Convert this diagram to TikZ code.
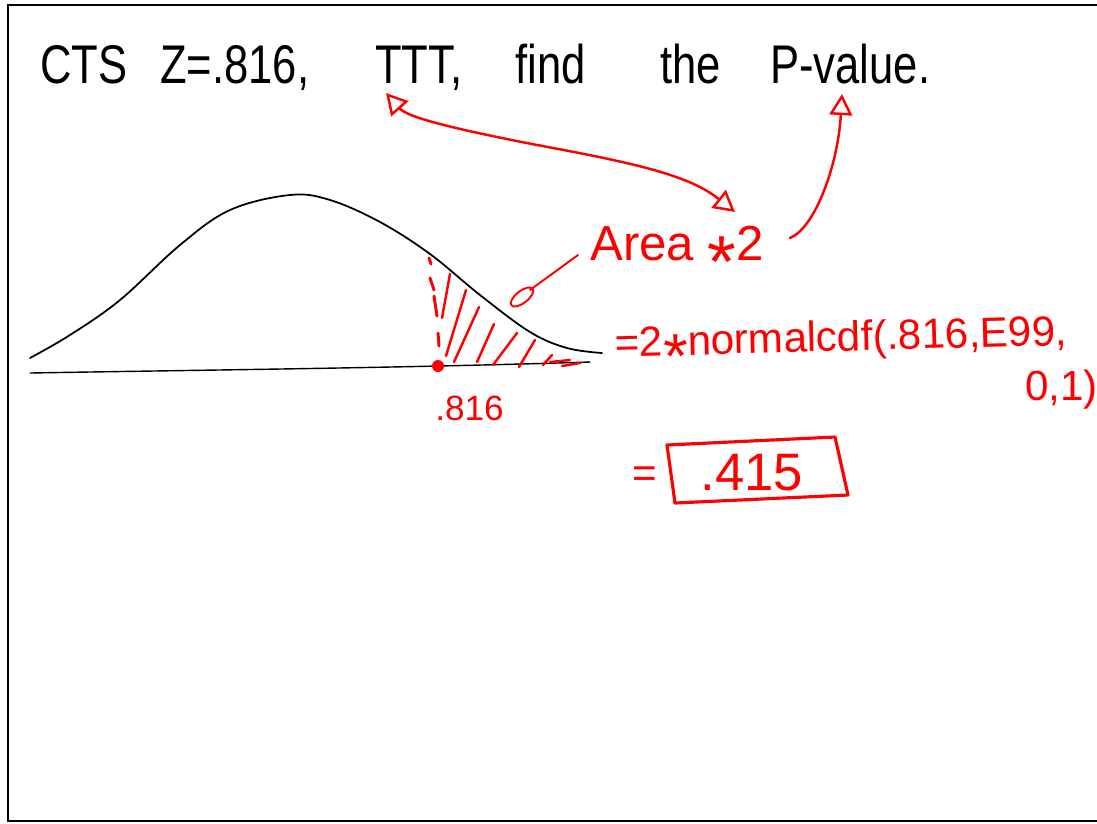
\documentclass[tikz,border=0pt]{standalone}
\usepackage{fontspec}
\setmainfont{Liberation Sans}
\usepackage{graphicx}
\usetikzlibrary{arrows.meta}
\definecolor{inkred}{RGB}{255,0,0}
\newcommand{\hstar}{\raisebox{-0.55em}{\scalebox{1.5}{*}}}
\newcommand{\narrow}[1]{\scalebox{0.8}[1]{#1}}
\tikzset{headtip/.tip={Triangle[open, length=12pt, width=13pt]}}

\begin{document}
\begin{tikzpicture}[x=0.02cm, y=-0.02cm,
    blackpen/.style={line width=1pt, black, line cap=round, line join=round},
    redpen/.style={line width=1.4pt, inkred, line cap=round, line join=round},
    titleword/.style={font=\fontsize{31}{34}\selectfont, anchor=base west, inner sep=0pt},
    redword/.style={font=\fontsize{24}{28}\selectfont, anchor=base west, inner sep=0pt, text=inkred}]
    % paper and frame
    \useasboundingbox (0,0) rectangle (1097,823);
    \fill[white] (0,0) rectangle (1097,823);
    \draw[line width=1.2pt] (1097,5) -- (8,5) -- (8,821) -- (1097,821);

    % question
    \node[titleword] (cts) at (40,83) {\narrow{CTS}};
    \node[titleword] (zval) at (160,83) {\narrow{Z=.816,}};
    \node[titleword] (ttt) at (375,83) {\narrow{TTT,}};
    \node[titleword] (find) at (515,83) {\narrow{find}};
    \node[titleword] (the) at (660,83) {\narrow{the}};
    \node[titleword] (pval) at (770,83) {\narrow{P-value.}};

    % normal curve and axis
    \draw[blackpen] plot[smooth, tension=0.6] coordinates {(30,358) (70,335) (120,300) (180,245) (230,210) (290,195) (330,200) (380,222) (430,254) (480,295) (530,332) (567,348) (602,353)};
    \draw[line width=0.8pt, line cap=round] (30,373) .. controls (200,370) and (400,368) .. (590,362);

    % z value on the axis
    \coordinate (zdot) at (438,366);
    \fill[inkred] (zdot) circle (0.12cm);
    \foreach \xa/\ya/\xb/\yb in {429/258/431/264, 430/278/434/290, 434/296/437/316, 438/333/439/346}
        \draw[redpen, line width=1.7pt] (\xa,\ya) -- (\xb,\yb);
    \node[redword, font=\fontsize{20}{24}\selectfont] (zlabel) at (435,420) {.816};

    % shaded tail
    \foreach \xa/\ya/\xb/\yb in {442/318/450/274, 446/356/466/290, 454/362/479/307, 477/362/494/324, 493/365/517/333, 519/367/535/340, 543/365/552/355, 550/362/570/360, 562/366/580/363}
        \draw[redpen] (\xa,\ya) -- (\xb,\yb);

    % area label with pointer
    \node[redword, font=\fontsize{28}{32}\selectfont] (area) at (590,260) {Area \hstar2};
    \coordinate (areaptr) at (578,255);
    \draw[redpen, line width=1.1pt] (areaptr) -- (530,290);
    \draw[redpen, line width=1.1pt, rotate around={38:(522,297)}] (522,297) ellipse (0.27cm and 0.12cm);

    % arrows
    \coordinate (ttttip) at (386,93);
    \coordinate (areatip) at (735,212);
    \coordinate (areaend) at (790,238);
    \coordinate (pvaltip) at (842,94);
    \draw[redpen, headtip-headtip] (ttttip) .. controls (408,118) and (460,130) .. (537,145) .. controls (640,164) and (690,176) .. (areatip);
    \draw[redpen, -headtip] (areaend) .. controls (815,228) and (838,165) .. (pvaltip);

    % calculation
    \node[redword, rotate=1.5] (ncdf) at (615,357) {=2\hstar normalcdf(.816,E99,};
    \node[redword] (ncdfb) at (1025,400) {0,1)};
    \node[redword] (eqsign) at (632,487) {=};
    \node[redword, font=\fontsize{30}{34}\selectfont] (answer) at (700,490) {.415};
    \draw[redpen, line width=1.8pt] (667,445) -- (835,437) -- (848,495) -- (675,503) -- cycle;
\end{tikzpicture}
\end{document}
